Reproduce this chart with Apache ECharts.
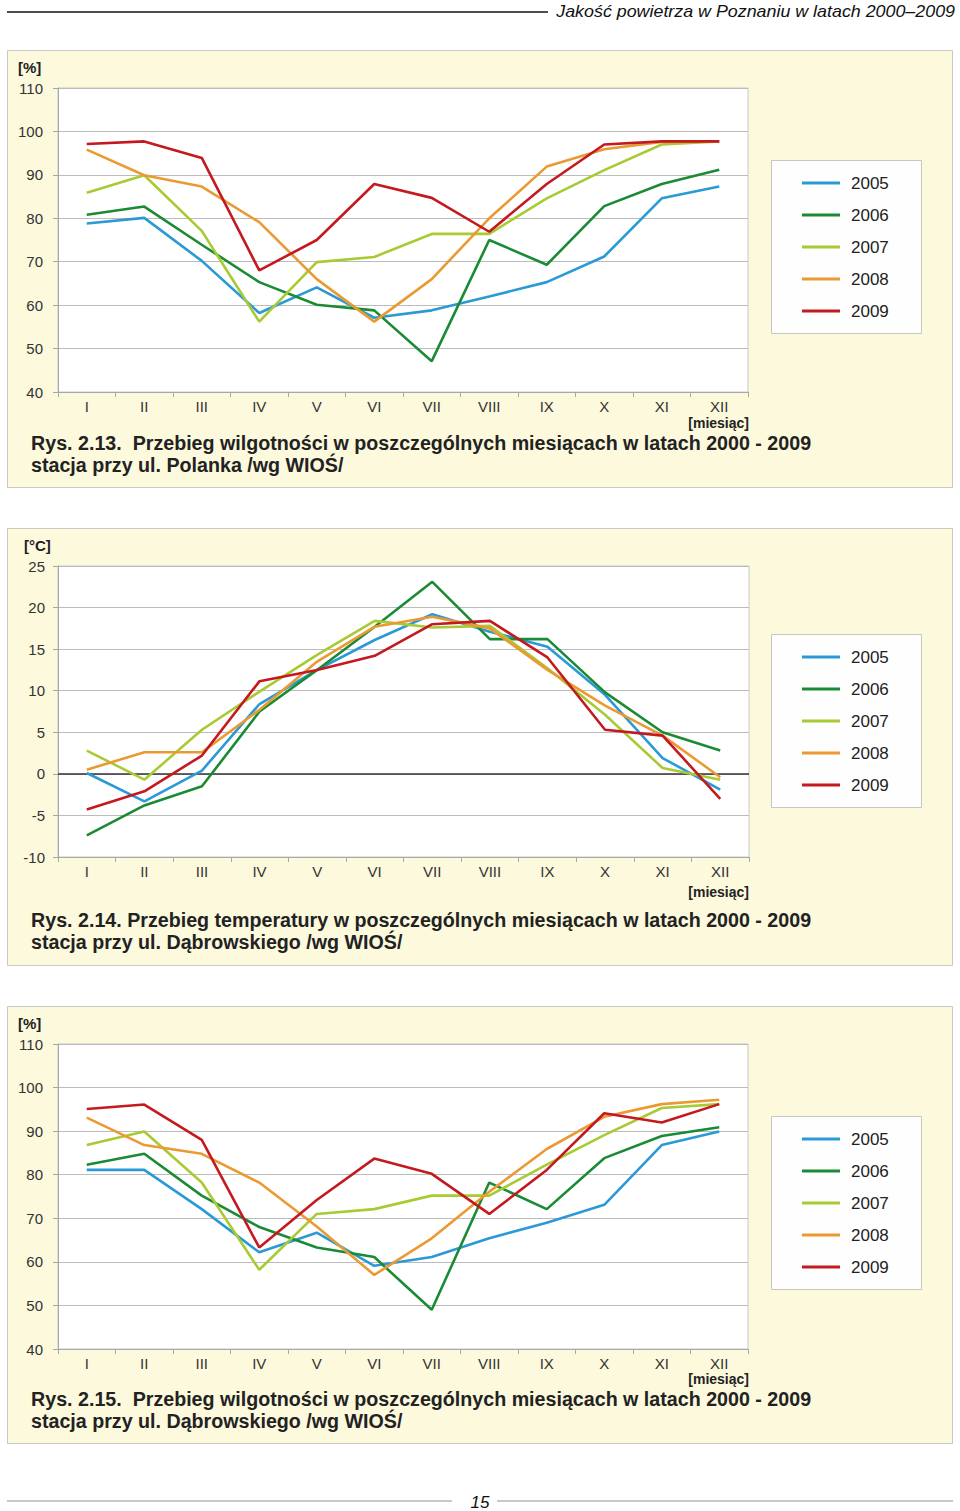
<!DOCTYPE html>
<html>
<head>
<meta charset="utf-8">
<script src="https://cdn.jsdelivr.net/npm/echarts@6/dist/echarts.min.js"></script>
<style>
html,body{margin:0;padding:0;background:#fff;}
#c{width:960px;height:1511px;}
</style>
</head>
<body>
<div id="c"></div>
<script>
// ---------- DATA ----------
const months = ['I','II','III','IV','V','VI','VII','VIII','IX','X','XI','XII'];
const years = ['2005','2006','2007','2008','2009'];
const humTicks = [40,50,60,70,80,90,100,110];
const tempTicks = [-10,-5,0,5,10,15,20,25];

// Rys. 2.13 - humidity, Polanka [%]
const polanka2005 = [78.8,80.1,70.2,58.2,64.1,57.1,58.8,62.0,65.3,71.2,84.6,87.3];
const polanka2006 = [80.8,82.7,73.9,65.3,60.1,58.8,47.1,75.0,69.3,82.8,87.9,91.2];
const polanka2007 = [85.9,89.9,77.1,56.2,69.9,71.1,76.4,76.4,84.6,91.1,97.0,97.7];
const polanka2008 = [95.8,89.9,87.3,79.1,66.0,56.2,66.0,80.0,91.9,95.9,97.6,97.7];
const polanka2009 = [97.1,97.7,93.9,68.0,75.0,87.9,84.7,76.9,87.9,97.0,97.7,97.7];

// Rys. 2.14 - temperature, Dąbrowskiego [°C]
const temp2005 = [0.1,-3.3,0.4,8.4,12.5,16.1,19.2,17.1,15.3,9.5,1.9,-1.9];
const temp2006 = [-7.4,-3.8,-1.5,7.5,12.5,17.7,23.1,16.2,16.2,9.8,5.0,2.8];
const temp2007 = [2.8,-0.7,5.3,9.9,14.3,18.4,17.6,17.8,12.7,7.1,0.7,-0.7];
const temp2008 = [0.5,2.6,2.6,7.7,13.5,17.7,18.9,17.5,12.5,8.2,4.6,-0.4];
const temp2009 = [-4.3,-2.1,2.2,11.15,12.5,14.2,18.0,18.4,14.0,5.3,4.6,-3.0];

// Rys. 2.15 - humidity, Dąbrowskiego [%]
const dabr2005 = [81.1,81.1,72.1,62.2,66.7,59.1,61.1,65.4,69.0,73.1,86.8,89.9];
const dabr2006 = [82.3,84.8,75.2,68.0,63.3,61.1,49.0,78.2,72.1,83.8,88.9,90.9];
const dabr2007 = [86.8,89.9,78.2,58.2,71.0,72.1,75.2,75.2,82.3,89.1,95.3,96.2];
const dabr2008 = [93.1,86.8,84.8,78.2,68.1,57.0,65.4,76.1,85.9,93.3,96.2,97.2];
const dabr2009 = [95.1,96.1,88.0,63.3,74.2,83.7,80.2,71.0,81.1,94.1,92.0,96.2];

const captions = [
  ['Rys. 2.13.  Przebieg wilgotności w poszczególnych miesiącach w latach 2000 - 2009', 'stacja przy ul. Polanka /wg WIOŚ/'],
  ['Rys. 2.14. Przebieg temperatury w poszczególnych miesiącach w latach 2000 - 2009', 'stacja przy ul. Dąbrowskiego /wg WIOŚ/'],
  ['Rys. 2.15.  Przebieg wilgotności w poszczególnych miesiącach w latach 2000 - 2009', 'stacja przy ul. Dąbrowskiego /wg WIOŚ/']
];
const units = ['[%]', '[°C]', '[%]'];
const headerText = 'Jakość powietrza w Poznaniu w latach 2000–2009';
const pageNumber = '15';
const axisUnit = '[miesiąc]';

// ---------- STYLE / LAYOUT ----------
const colors = ['#2a9ad6','#1a8b34','#a8ca32','#eb9a33','#c4191e'];
const FONT = '"Liberation Sans", Arial, sans-serif';
const panels = [
  {top:50, grid:{left:58, top:88, width:690, height:304}, legendTop:160, unitX:18, unitY:67, miesY:423, capY:[443,465], tickMin:humTicks, labelMargin:7, yMargin:15},
  {top:528, grid:{left:58, top:566, width:691, height:291}, legendTop:634, unitX:24, unitY:545, miesY:892, capY:[920,942], tickMin:tempTicks, labelMargin:7, yMargin:13},
  {top:1006, grid:{left:58, top:1044, width:690, height:305}, legendTop:1116, unitX:18, unitY:1023, miesY:1379, capY:[1399,1421], tickMin:humTicks, labelMargin:7, yMargin:15}
];
const seriesData = [
  [polanka2005,polanka2006,polanka2007,polanka2008,polanka2009],
  [temp2005,temp2006,temp2007,temp2008,temp2009],
  [dabr2005,dabr2006,dabr2007,dabr2008,dabr2009]
];

const measureCtx = document.createElement('canvas').getContext('2d');
function textWidth(t, font){ measureCtx.font = font; return measureCtx.measureText(t).width; }

const chart = echarts.init(document.getElementById('c'), null, {renderer:'svg', width:960, height:1511});

const grids = [], xAxes = [], yAxes = [], series = [], legends = [], graphics = [];

// header
const headFont = 'italic 17px ' + FONT;
const headScale = 399 / textWidth(headerText, headFont);
graphics.push({type:'line', shape:{x1:7,y1:12,x2:548,y2:12}, style:{stroke:'#111', lineWidth:1.5}, silent:true});
graphics.push({type:'text', x:955, y:11, scaleX:headScale, style:{text:headerText, font:headFont, fill:'#111', align:'right', verticalAlign:'middle'}});
// footer
graphics.push({type:'line', shape:{x1:7,y1:1501,x2:452,y2:1501}, style:{stroke:'#c8c8c8', lineWidth:2}});
graphics.push({type:'line', shape:{x1:497,y1:1501,x2:953,y2:1501}, style:{stroke:'#c8c8c8', lineWidth:2}});
graphics.push({type:'text', x:480, y:1502, style:{text:pageNumber, font:'italic 17px ' + FONT, fill:'#111', align:'center', verticalAlign:'middle'}});

const capFont = 'bold 20px ' + FONT;

panels.forEach((p, i) => {
  // panel background
  graphics.push({type:'rect', z:-10, shape:{x:7.5, y:p.top+0.5, width:945, height:437}, style:{fill:'#fcf9dd', stroke:'#c9c9c3', lineWidth:1}});
  // legend box
  graphics.push({type:'rect', z:-5, shape:{x:771.5, y:p.legendTop+0.5, width:150, height:173}, style:{fill:'#fefefe', stroke:'#c6c6c0', lineWidth:1}});
  // unit label
  graphics.push({type:'text', x:p.unitX, y:p.unitY, style:{text:units[i], font:'bold 15px ' + FONT, fill:'#222', verticalAlign:'middle'}});
  // [miesiąc]
  graphics.push({type:'text', x:749, y:p.miesY, style:{text:axisUnit, font:'bold 14px ' + FONT, fill:'#222', align:'right', verticalAlign:'middle'}});
  // captions
  const sc = 780 / textWidth(captions[i][0], capFont);
  graphics.push({type:'text', x:31, y:p.capY[0], scaleX:sc, style:{text:captions[i][0], font:capFont, fill:'#222', verticalAlign:'middle'}});
  graphics.push({type:'text', x:31, y:p.capY[1], scaleX:sc, style:{text:captions[i][1], font:capFont, fill:'#222', verticalAlign:'middle'}});

  grids.push({left:p.grid.left, top:p.grid.top, width:p.grid.width, height:p.grid.height, show:true, backgroundColor:'#ffffff', borderColor:'#c8c8c8', borderWidth:1});
  const ticks = p.tickMin;
  xAxes.push({type:'category', gridIndex:i, data:months, boundaryGap:true,
    axisLine:{show:true, onZero:false, lineStyle:{color:'#a8a8a8', width:1}},
    axisTick:{show:true, length:5, lineStyle:{color:'#a8a8a8'}},
    axisLabel:{margin:p.labelMargin, fontSize:15, fontFamily:FONT, color:'#333', interval:0},
    splitLine:{show:false}});
  yAxes.push({type:'value', gridIndex:i, min:ticks[0], max:ticks[ticks.length-1], interval:ticks[1]-ticks[0],
    axisLine:{show:true, lineStyle:{color:'#a8a8a8', width:1}},
    axisTick:{show:true, length:5, lineStyle:{color:'#a8a8a8'}},
    axisLabel:{margin:p.yMargin, fontSize:15, fontFamily:FONT, color:'#333'},
    splitLine:{show:true, lineStyle:{color:'#bcbcbc', width:1}}});
  legends.push({show:true, data:years, orient:'vertical', left:802, top:p.legendTop+13, padding:0, itemWidth:38, itemHeight:3, icon:'rect', itemGap:12,
    selectedMode:false, textStyle:{fontSize:17, fontFamily:FONT, color:'#222', lineHeight:20, padding:[0,0,0,6]}});
  years.forEach((y, k) => {
    const s = {name:y, type:'line', xAxisIndex:i, yAxisIndex:i, data:seriesData[i][k], showSymbol:false, symbol:'none',
      lineStyle:{color:colors[k], width:2.6}, itemStyle:{color:colors[k]}, color:colors[k], z:3+k, silent:true};
    if (i === 1 && k === 0) {
      s.markLine = {silent:true, symbol:['none','none'], label:{show:false}, z:2,
        lineStyle:{color:'#333', type:'solid', width:1.5}, data:[{yAxis:0}]};
    }
    series.push(s);
  });
});

chart.setOption({
  animation:false,
  backgroundColor:'#ffffff',
  grid:grids, xAxis:xAxes, yAxis:yAxes, legend:legends, series:series,
  graphic:graphics
});
</script>
</body>
</html>
